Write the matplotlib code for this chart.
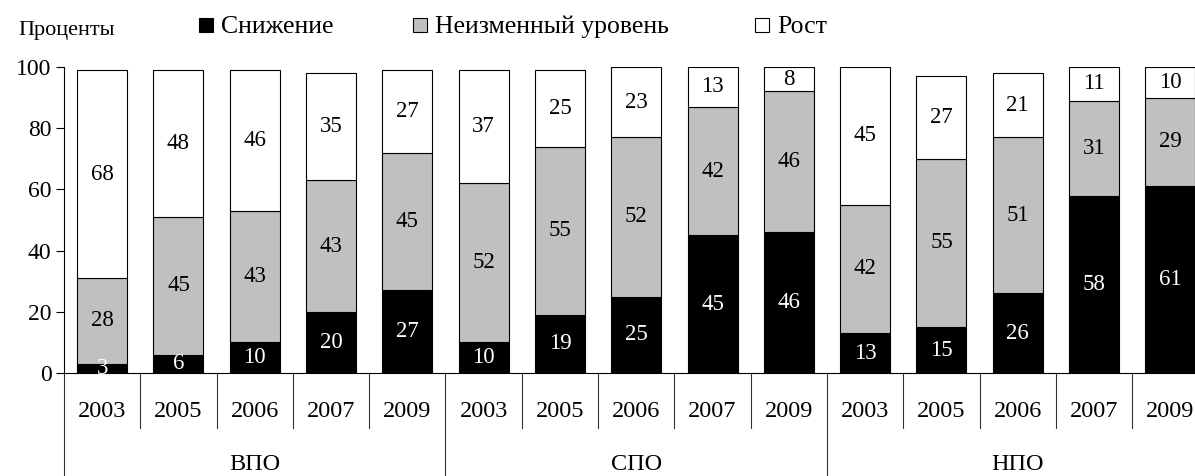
import matplotlib
matplotlib.use('Agg')
from matplotlib import pyplot as plt
from matplotlib.patches import Rectangle
import numpy as np

plt.rcParams['font.family'] = ['Liberation Serif', 'DejaVu Serif']

groups = ['ВПО', 'СПО', 'НПО']
years = ['2003', '2005', '2006', '2007', '2009']

# снижение / неизменный уровень / рост, по группам подряд
decrease = [3, 6, 10, 20, 27, 10, 19, 25, 45, 46, 13, 15, 26, 58, 61]
same = [28, 45, 43, 43, 45, 52, 55, 52, 42, 46, 42, 55, 51, 31, 29]
growth = [68, 48, 46, 35, 27, 37, 25, 23, 13, 8, 45, 27, 21, 11, 10]

series_names = ['Снижение', 'Неизменный уровень', 'Рост']
colors = ['black', '#c0c0c0', 'white']
text_colors = ['white', 'black', 'black']

W, H = 1195, 476
fig = plt.figure(figsize=(W / 100, H / 100), dpi=100)
step = 76.3
n = len(decrease)
ax = fig.add_axes([64 / W, 103 / H, step * n / W, 306 / H])

x = np.arange(n)
bottom = np.zeros(n)
for vals, c, tc in zip([decrease, same, growth], colors, text_colors):
    vals = np.array(vals)
    ax.bar(x, vals, bottom=bottom, width=0.655, color=c, edgecolor='black', linewidth=0.8)
    for i in range(n):
        ax.text(x[i], bottom[i] + vals[i] / 2, str(vals[i]), ha='center', va='center',
                fontsize=16.5, color=tc)
    bottom = bottom + vals

ax.set_xlim(-0.5, n - 0.5)
ax.set_ylim(0, 100)
ax.set_yticks([0, 20, 40, 60, 80, 100])
ax.tick_params(axis='y', labelsize=17, length=6, width=0.8, direction='out', pad=3)
ax.set_xticks([])
for s in ['top', 'right']:
    ax.spines[s].set_visible(False)
ax.spines['left'].set_bounds(0, 100)
ax.spines['left'].set_linewidth(0.8)
ax.spines['bottom'].set_linewidth(0.8)

# подписи категорий под осью
y_year_end = -18
y_group_end = -34
for k in range(n + 1):
    xs = k - 0.5
    if k % 5 == 0:
        ax.plot([xs, xs], [0, y_group_end], color='#333333', lw=0.8, clip_on=False)
    else:
        ax.plot([xs, xs], [0, y_year_end], color='#333333', lw=0.8, clip_on=False)
for i in range(n):
    ax.text(x[i], -12.7, years[i % 5], ha='center', va='center', fontsize=17.5)
for g, name in enumerate(groups):
    ax.text(g * 5 + 2, -30, name, ha='center', va='center', fontsize=17.5)

# легенда
fig.text(18 / W, 1 - 30 / H, 'Проценты', ha='left', va='center', fontsize=16)
leg_x = [199, 413, 755]
for lx, name, c in zip(leg_x, series_names, colors):
    fig.patches.append(Rectangle((lx / W, 1 - 32 / H), 14 / W, 14 / H, transform=fig.transFigure,
                                 facecolor=c, edgecolor='black', linewidth=0.8))
    fig.text((lx + 22) / W, 1 - 27 / H, name, ha='left', va='center', fontsize=18.5)

fig.savefig('out.png', dpi=100)
